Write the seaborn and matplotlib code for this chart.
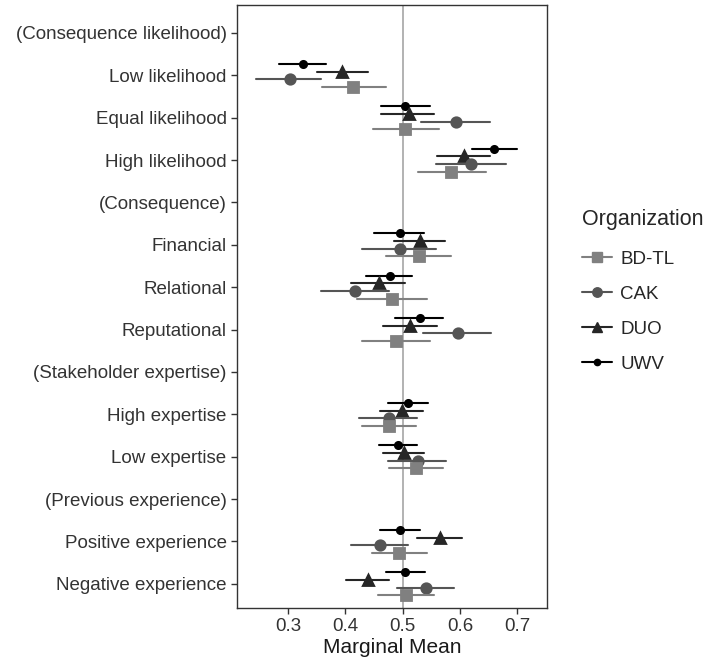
import numpy as np
import pandas as pd
import matplotlib
matplotlib.use("Agg")
import matplotlib.pyplot as plt
from matplotlib.lines import Line2D
import seaborn as sns

# ---------------- data ----------------
categories = [
    "(Consequence likelihood)", "Low likelihood", "Equal likelihood", "High likelihood",
    "(Consequence)", "Financial", "Relational", "Reputational",
    "(Stakeholder expertise)", "High expertise", "Low expertise",
    "(Previous experience)", "Positive experience", "Negative experience",
]
levels = [
    "Low likelihood", "Equal likelihood", "High likelihood",
    "Financial", "Relational", "Reputational",
    "High expertise", "Low expertise",
    "Positive experience", "Negative experience",
]
organizations = ["BD-TL", "CAK", "DUO", "UWV"]

uwv_est = [0.326, 0.505, 0.660, 0.495, 0.478, 0.530, 0.510, 0.492, 0.496, 0.505]
uwv_lo  = [0.285, 0.463, 0.621, 0.450, 0.436, 0.487, 0.474, 0.458, 0.460, 0.471]
uwv_hi  = [0.366, 0.548, 0.700, 0.537, 0.517, 0.570, 0.545, 0.526, 0.531, 0.539]

duo_est = [0.395, 0.511, 0.608, 0.530, 0.458, 0.513, 0.499, 0.502, 0.565, 0.439]
duo_lo  = [0.350, 0.463, 0.560, 0.485, 0.410, 0.466, 0.461, 0.466, 0.526, 0.402]
duo_hi  = [0.439, 0.555, 0.652, 0.574, 0.505, 0.560, 0.536, 0.538, 0.603, 0.476]

cak_est = [0.303, 0.593, 0.619, 0.496, 0.417, 0.596, 0.476, 0.527, 0.460, 0.541]
cak_lo  = [0.245, 0.532, 0.558, 0.429, 0.358, 0.535, 0.424, 0.474, 0.410, 0.490]
cak_hi  = [0.357, 0.652, 0.681, 0.558, 0.476, 0.655, 0.526, 0.576, 0.510, 0.590]

bdtl_est = [0.414, 0.505, 0.585, 0.528, 0.481, 0.488, 0.476, 0.523, 0.494, 0.506]
bdtl_lo  = [0.359, 0.448, 0.527, 0.471, 0.421, 0.429, 0.430, 0.477, 0.447, 0.457]
bdtl_hi  = [0.471, 0.563, 0.645, 0.584, 0.542, 0.547, 0.523, 0.570, 0.542, 0.555]

x_ticks = [0.3, 0.4, 0.5, 0.6, 0.7]

# ---------------- build long table ----------------
series = {
    "UWV": (uwv_lo, uwv_est, uwv_hi),
    "DUO": (duo_lo, duo_est, duo_hi),
    "CAK": (cak_lo, cak_est, cak_hi),
    "BD-TL": (bdtl_lo, bdtl_est, bdtl_hi),
}
rows = []
for org, (lo, est, hi) in series.items():
    for lvl, a, b, c in zip(levels, lo, est, hi):
        for v in (a, b, c):
            rows.append({"Organization": org, "level": lvl, "value": v})
df = pd.DataFrame(rows)

# ---------------- style ----------------
sns.set_style("white")
plt.rcParams["font.family"] = ["Liberation Sans", "DejaVu Sans"]

colors = {"BD-TL": "#808080", "CAK": "#555555", "DUO": "#262626", "UWV": "#000000"}
marker_map = {"BD-TL": "s", "CAK": "o", "DUO": "^", "UWV": "o"}
size_map = {"BD-TL": 6.5, "CAK": 6.8, "DUO": 6.5, "UWV": 4.5}
dodge_order = ["UWV", "DUO", "CAK", "BD-TL"]

fig = plt.figure(figsize=(7.06, 6.62), dpi=100)
ax = fig.add_axes([237 / 706, 1 - 608 / 662, (547 - 237) / 706, (608 - 5) / 662])

ax.axvline(0.5, color="#a6a6a6", linewidth=1.2, zorder=0)

sns.pointplot(
    data=df, x="value", y="level", hue="Organization",
    order=categories, hue_order=dodge_order,
    estimator="median", errorbar=lambda v: (v.min(), v.max()),
    dodge=0.54, linestyle="none",
    markers=[marker_map[o] for o in dodge_order],
    palette=colors, markersize=6.5, err_kws={"linewidth": 1.5},
    legend=False, ax=ax, orient="y",
)

for ln in ax.lines:
    mk = ln.get_marker()
    hexc = matplotlib.colors.to_hex(ln.get_color())
    if mk == "o" and hexc == "#000000":
        ln.set_markersize(size_map["UWV"])
    elif mk == "o":
        ln.set_markersize(size_map["CAK"])

ax.set_xlim(0.211, 0.752)
ax.set_ylim(13.57, -0.66)
ax.set_xticks(x_ticks)
ax.set_xticklabels([f"{t:.1f}" for t in x_ticks])
ax.set_xlabel("Marginal Mean", fontsize=15, color="#1a1a1a", labelpad=2)
ax.set_ylabel("")
ax.tick_params(axis="both", labelsize=13.5, labelcolor="#333333", length=4,
               width=1, color="#333333", direction="out", bottom=True, left=True)
for sp in ax.spines.values():
    sp.set_color("#333333")
    sp.set_linewidth(1)

handles = [
    Line2D([], [], color=colors[o], marker=marker_map[o], markersize=size_map[o],
           linewidth=1.5, markeredgecolor=colors[o])
    for o in organizations
]
leg = fig.legend(handles, organizations, title="Organization",
                 loc="upper left", bbox_to_anchor=(582 / 706, 1 - 209 / 662),
                 frameon=False, fontsize=13.5, title_fontsize=15.5,
                 handlelength=1.6, handletextpad=0.45, labelspacing=0.95,
                 alignment="left", borderpad=0, borderaxespad=0)
leg._legend_box.sep = 15

fig.savefig("out.png", dpi=100)
